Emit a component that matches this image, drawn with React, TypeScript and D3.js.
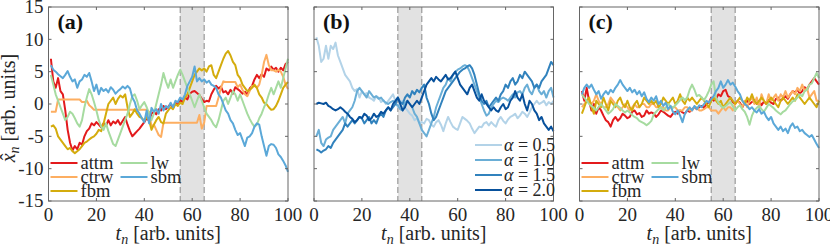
import * as d3 from "d3";

// time index t_n = 1..100
const tn = d3.range(1, 101);

const xTicks = [0, 20, 40, 60, 80, 100];
const yTicks = [-15, -10, -5, 0, 5, 10, 15];

// ---- panel (a): one trajectory per model ----
const aAttm = [
  7, 3.5, 2.5, 4, 2, 1.5, -1, -4, -6, -7.2,
  -6.5, -7, -6, -6.3, -5, -4.2, -3.8, -3, -3.3, -2.8,
  -3.2, -3.6, -3, -3.4, -2.5, -3.3, -2.7, -3, -2.5, -3.2,
  -2.6, -2, -3.2, -4.2, -5, -4.6, -4.2, -3.8, -3.3, -2.8,
  -2.2, -2.6, -1.5, -1.2, -1.6, -0.8, -1, -0.3, -0.8, -0.4,
  0, -0.6, 0.2, -0.2, 0.6, 0.3, 1, 0.7, 1.6, 1.9,
  2, 1.7, 1.4, 0.8, 0.3, 0.5, 0.4, 1.5, 2.2, 2.8,
  2.4, 2.7, 1.8, 2, 1.5, 2.2, 1.6, 2.6, 2.3, 2,
  1.6, 1.9, 1.4, 2.4, 2.8, 3.8, 4.5, 4, 4.6, 4.2,
  5.5, 5.2, 5.8, 5.3, 5.6, 5, 5.6, 5.2, 6.2, 6.5,
];
const aCtrw = [
  -1.2, -1.2, -1.2, 0.7, 0.7, 0.7, 0.7, 0.7, 0.7, 0.7,
  0.7, 0.7, 0.7, 0.3, 0.3, 0.5, -0.2, -0.5, -0.9, -0.9,
  -0.9, -0.9, -0.9, -0.9, -0.9, -0.9, -0.9, -0.9, -0.9, -0.9,
  -0.9, -0.9, -0.9, -0.9, -0.9, -0.9, -0.9, -0.9, -0.9, -0.9,
  -0.9, -1.2, -3.5, -3.2, -4, -4.8, -5.1, -2.9, -2.9, -2.9,
  -2.9, -2.9, -2.9, -2.9, -2.9, -2.9, -2.9, -2.9, -2.9, -2.9,
  -2.9, -2.9, -1.7, -3.8, -2.9, -0.3, -0.3, -0.3, -0.3, -0.3,
  1, 2.5, 3.5, 3.4, 3.4, 3.4, 3.4, 3.4, 2.6, 3,
  2.2, 1.5, 1.2, 2, 2.8, 2.8, 2.5, 3, 4.5, 6.5,
  7.6, 6, 5.2, 5.2, 5, 5.3, 5, 4.2, 3, 2.3,
];
const aFbm = [
  -3.5, -3.3, -3.8, -5, -5.5, -6, -6.5, -7, -6.8, -7.3,
  -7.6, -7.3, -7, -6.5, -6, -5.8, -5.5, -5.2, -5, -4.6,
  -4, -4.2, -3, -1.5, 0, 0.5, 1, 0, 0.8, 1.3,
  1, 1.5, -0.5, -2, -1.5, -0.8, -1.5, -2, -2.2, -2.6,
  -2, -2.5, -4, -3.2, -2.5, -2, -2.8, -3, -1.5, -1,
  -0.5, -0.8, 0, -0.3, 0.2, 0, 1, 1.5, 2.5, 3.5,
  4.5, 5, 5.5, 5.2, 5.5, 5, 5.8, 6, 4.5, 4,
  5, 6, 7, 7.8, 8.2, 7.5, 6.5, 6, 4.5, 4,
  3, 2.5, 2, 2.2, 2.5, 3, 2.5, 1.5, 1, 0.2,
  0, -0.5, -0.9, -0.8, -0.3, 0.5, 1.5, 2.5, 3, 3.4,
];
const aLw = [
  4.5, 3, 1.5, 0.5, -0.5, -1.5, -2.5, -2, -1.2, -1.5,
  -2.2, -3, -3.5, -2.5, -0.5, 1, 2.3, 1.5, 0.3, -1,
  -2.5, -3.5, -4, -3, -4.2, -5.2, -6.2, -6.5, -5.5, -4.5,
  -3.5, -2.5, -1.5, 0, 1.2, 1.5, 0.5, -0.8, -0.2, 0.3,
  -0.5, -1.5, -2.5, -1.5, 0, 1.5, 3, 4.8, 3.5, 2.5,
  3.8, 2.5, 3.5, 4.5, 5.3, 4.5, 3.5, 2.5, 1.5, 0.5,
  -0.5, 0.5, 1.5, 0.5, -0.5, -1.5, -2, -2.5, -3.2, -3.6,
  -2.5, -1, 0.5, 1, 0, 1, 2, 1.5, 0.5, 1.5,
  0.5, -0.5, -1.5, -2.3, -3, -3.5, -3.2, -2.2, -1.5, -0.5,
  0.3, 1.5, 2.5, 1.5, 2.5, 3.5, 2.5, 4, 5.5, 7,
];
const aSbm = [
  6, 5.3, 5, 4.6, 4.3, 4, 4.5, 5.1, 4.2, 3.5,
  3.8, 2.5, 3.5, 3.8, 4.5, 4.2, 4.8, 3.5, 2, 3,
  1.5, 2.5, 2, 2.3, 1.8, 2.6, 2.2, 1.6, 2, 2.3,
  2.7, 2.4, 2.8, 2.4, 1, 0.3, -1, -1.5, -2.2, -2.8,
  -1, -3, -0.6, -1.2, -0.8, -1.5, 0, -1, -0.3, -0.6,
  0.2, -0.5, 0.5, 0.3, 1, 0.7, 1.5, 2.8, 3.5, 4.2,
  5.8, 3.5, 4, 3.5, 3.8, 3.3, 3.6, 3, 2.8, 2.5,
  1.5, 1, 0, -1, -1.5, -2.5, -3, -4, -4.8, -4.5,
  -5.5, -6.5, -5.2, -5, -4.5, -3.5, -3, -3.2, -5, -6.5,
  -8, -6.5, -6.2, -6.3, -6.8, -7.8, -8.2, -8.8, -9.5, -10.5,
];

// ---- panel (b): trajectories for several alpha ----
const bAlpha05 = [
  10.3, 9, 6.5, 7, 9, 7, 9, 8.5, 9.5, 7.5,
  6.5, 5.5, 4.5, 4, 3.5, 2.5, 2, 2.3, 1, 2,
  1.5, 1.7, 1, 0.8, 0.5, 1.2, 1, 0.3, 0.6, 0,
  0.5, 1, 1.5, 0.5, -0.5, 0.3, 0.5, -0.5, -1, -1.5,
  -1.8, -2.5, -2.2, -3, -2.8, -3, -2.3, -2.5, -3.2, -3.5,
  -2.8, -2.5, -3.2, -4.2, -3, -2, -2.8, -3.5, -3.8, -4,
  -3, -2, -2.3, -2.6, -3, -3.8, -4.5, -4, -3.5, -3.6,
  -3, -2.8, -3.3, -2.8, -3.2, -3.5, -2.5, -2, -2.6, -3,
  -2.4, -2, -1.8, -1.5, -2.2, -1.8, -1.2, -1.5, -2, -1.3,
  -0.5, 0, 0.5, 0, 0.2, 0.5, -0.2, 0.3, 0, 0.5,
];
const bAlpha10 = [
  -5, -4, -6, -6.5, -5.5, -5.2, -5, -4, -3.5, -3,
  -2.5, -2, -3, -1.5, -1, -0.5, 0.5, 2, 2.5, 2,
  1.5, 1, 2, 1.5, 1, 1.2, 0.8, 1, 0.5, 0.2,
  0, 0.3, 0.5, 0, -0.2, -0.8, -1, 0.2, 0.5, 0,
  -0.5, -1.5, -2, -3, -4, -4.5, -5, -4, -3, -2,
  -0.5, 0.5, 1.5, 2.5, 3, 4, 3.5, 4.5, 5, 5.3,
  5.5, 5.8, 6, 5.8, 5, 4, 3, 2, 1, 0,
  -1, -1.8, -1.5, -0.5, 0, 0.5, 0.3, 0.8, 1, 0.8,
  0.5, 1, 1.5, 1, 1.8, 2, 1.5, 2.5, 3, 2,
  1.5, 2.5, 3, 2, 1.5, 2, 1, 2, 2.5, 1,
];
const bAlpha15 = [
  -7, -7.2, -7.5, -7.2, -7, -6.5, -6.8, -6, -5.5, -5,
  -4.5, -4, -3, -3.5, -3, -2.5, -3, -2.5, -2, -2.2,
  -3, -2.5, -2, -3, -2.5, -3, -2, -1.5, -2, -1,
  -0.5, -1, -0.5, 0, 1, 0.3, 0, 1, 1.5, 1,
  2, 1.5, 2.2, 1.8, 2.5, 3, 1, 0, -1.5, -2.5,
  -2, -1, 0, 1, 2, 2.5, 3, 3.5, 4, 4.5,
  5, 5.3, 5.5, 5.8, 6, 5.5, 4.5, 3, 1.5, 0.5,
  0, 0.5, -0.5, 0, 0.5, 1, 0.5, 1.5, 2, 3,
  2.5, 3.5, 4, 3, 3.5, 4.5, 4, 5, 4.5, 4,
  3.5, 2.5, 3, 2.5, 3.5, 4, 4.5, 5.5, 6.5, 6,
];
const bAlpha20 = [
  0, 0.2, 0.1, 0, 0.2, -0.3, -0.5, -0.8, -1, -0.8,
  -0.5, -0.8, -1.2, -1.5, -2, -2.3, -2.8, -2.5, -2, -2.2,
  -1.5, -1.8, -2.5, -2.2, -1.5, -2, -1.8, -1.2, -1.5, -1,
  -0.5, -1, 0, 0.5, 1, 0, -1, -0.5, 0.5, 0,
  -0.5, 0, 0.5, 0, 1, 2, 3, 3.5, 4, 3.5,
  4.2, 3.8, 3.5, 4, 4.5, 3.8, 4, 4.5, 5, 4,
  3, 2.5, 2, 1.5, 2.5, 3, 2, 1, 0.5, 1.5,
  0.5, 0, -0.5, -1, -0.5, -1, -1.2, -0.5, 0, -0.8,
  -0.5, 0.5, 1, 2, 1, 0.5, 1.5, 0, -1, 0.5,
  0, -1, -1.5, -2.5, -2, -3, -3.5, -4, -3.5, -4.2,
];

// ---- panel (c): one trajectory per model ----
const cAttm = [
  2, 0.5, 2.5, 0.5, -1, 0, -1.5, -0.5, -1, -1.8,
  -2.5, -2.8, -3.5, -2.5, -2, -2.6, -2.2, -1.5, -1.8, -2.2,
  -2, -1.2, -1, -1.6, -1.4, -2, -1.8, -1, -1.5, -1.3,
  -1.5, -2, -1.6, -1, -1.2, -1.5, -1.8, -2, -1.5, -1.2,
  -1.5, -1, -1.3, -1.5, -1, -1.2, -0.8, -0.5, -0.8, -0.5,
  -0.3, -0.6, 0, 0.2, 1, 0.5, 0.8, 1.5, 1.2, 2,
  2.2, 1.2, 1, 0.3, 0, 0.5, 0.2, -0.5, 0.2, 0.5,
  0, 0.3, 0.6, 0, 0.5, -0.2, 0.4, 0, 0.6, 0.2,
  0, 0.8, 1, 0.5, 0.8, 1.2, 0.8, 1.5, 2, 1.8,
  2.2, 1.6, 2, 2.6, 2.2, 3, 3.5, 4, 3.5, 3,
];
const cCtrw = [
  -0.5, 0, 0.5, 0.5, 0, 0.5, 1.5, 0.5, 0, -0.5,
  -0.5, 0, 1, 0.5, 0, -0.5, -1, -0.5, 0, -0.5,
  -1, -0.5, 0, -0.5, -0.5, 0, 0, -0.5, -0.5, 0,
  0, -0.5, -0.5, -0.5, -0.5, -1, -1, -0.5, -0.5, -0.5,
  -1, -1, -1, -0.5, -0.5, -1, -1, -0.5, -0.5, -1,
  -1, -0.8, -0.5, -0.5, -1, -1, -1, -1.5, -1, -0.5,
  -1, -0.5, -0.5, -1, 0, 0.5, 0, -0.5, 0.5, -0.5,
  0.5, 1, 0, 1, -0.5, 1.5, 0.5, 0, 1.5, 0.5,
  1, 1.5, 0.5, 1.5, 1, 2, 1, 1.5, 2, 1.5,
  2.5, 2, 3, 2, 2.5, 1, 1.5, 2, 0.5, 0.5,
];
const cFbm = [
  -1.5, -0.5, 0.5, 1, -0.5, -1.5, 0.5, 0, -0.5, 1,
  0, -1, 0.5, 0, -0.5, 0.5, 1, 0, -0.5, 0.5,
  -0.5, -1, 0, 0.5, -0.5, 0, 1, 0.5, 0, 0.5,
  0, 0.5, -0.5, 0, 1, 0.5, 0, 0.5, 1, 0,
  0.5, 1.5, 0.5, 0, 1, 0.5, 1, 0.5, 0, 0.5,
  1, 0.5, 0, -0.5, 0.5, 1, 0.5, 0, 0.5, -0.5,
  0, 0.5, 1, 0.5, 0, 0.5, 1, 0.5, 0, 1,
  0.5, 1.5, 0.5, 0, 0.5, 1, 0.5, 0, 0.5, 1,
  0.5, 0, -0.5, 0.5, 1, 0.5, 0, 0.5, 1, 0.5,
  1.5, 1, 0.5, 0, 0.5, 1, 0.5, 0, -0.5, 0.5,
];
const cLw = [
  1.5, 1, 0.5, 0, -0.3, -0.6, -1, -0.5, 0, -0.5,
  -1, -1.5, -1.2, -0.8, 0, -0.3, -0.6, -1, -1.3, -1,
  -1.3, -1.7, -2, -2.2, -2.6, -2.8, -3, -3.3, -3, -2.6,
  -1.6, -1.2, -0.8, -0.5, -1, -0.6, 0, -0.3, -0.6, -0.2,
  0.2, 0.6, 1, 0.6, 1, 2.2, 3, 2.2, 1.2, 1.4,
  1, 0.6, 1.2, 2, 3, 3.5, 1, 0.2, -0.3, -0.6,
  -0.3, 0, 0.3, -0.3, -1, -0.5, -0.2, -0.8, -1.2, -2,
  -3.2, -1.8, -1, -0.6, -0.3, -0.8, -1.2, -0.6, 0, -0.3,
  -0.6, -1, -1.3, -1.6, -1.2, -1, -0.5, 0, 0.4, 0.6,
  1, 1.5, 1.2, 2, 2.2, 3, 3.2, 4, 4.8, 4,
];
const cSbm = [
  1.5, 2.5, 3, 2.5, 3, 2.2, 1.5, 2, 0.8, 1.5,
  2, 1.5, 2.2, 1.8, 2.5, 3, 3.7, 3, 2.5, 2,
  2.5, 1.8, 2.2, 1.5, 2, 1.2, 1.8, 0.8, 0.3, 1,
  0.5, 1.2, 0, 0.5, -0.3, 0.2, -0.8, -0.3, -1.2, -1.6,
  -1, -1.8, -2.8, -1.5, -1, -0.5, -1, -0.3, -0.8, -0.2,
  -0.5, 0, 0.5, 0.2, 0.8, 1.2, 2, 2.5, 3.5, 2.5,
  3, 3.7, 3, 3.3, 2.7, 2, 1.5, 0.5, 0, -0.3,
  -0.8, -0.5, -1, -1.3, -0.8, -1.5, -1.2, -2, -2.5, -2,
  -3, -3.5, -4, -3.5, -4.2, -3.8, -4.5, -3.5, -3, -3.7,
  -3.5, -4.2, -4, -4.5, -4.8, -5.1, -4.8, -5.5, -6.2, -6.8,
];

const modelNames = ["attm", "ctrw", "fbm", "lw", "sbm"];
const modelColors = ["#e31a1c", "#fdae61", "#d4ac0d", "#a6dba0", "#5ba8d8"];
const alphaNames = ["0.5", "1.0", "1.5", "2.0"];
const alphaColors = ["#b3d3e8", "#6aaed6", "#3182bd", "#08519c"];

type Series = { name: string; color: string; values: number[] };

const FONT = "'Liberation Serif', 'DejaVu Serif', serif";
const top = 7;
const bottom = 201;
const pw = 239.5;

const y = d3.scaleLinear().domain([-15, 15]).range([bottom, top]);

function Panel({ left, label, series, shade, legend, yLabels }: {
  left: number; label: string; series: Series[]; shade: [number, number];
  legend: "model" | "alpha"; yLabels: boolean;
}) {
  const x = d3.scaleLinear().domain([0, 100]).range([left, left + pw]);
  const line = d3.line<number>().x((_, i) => x(tn[i])).y((v) => y(v));
  const tl = 3;
  return (
    <g fontFamily={FONT}>
      <rect x={x(shade[0])} y={top} width={x(shade[1]) - x(shade[0])} height={bottom - top} fill="#e2e2e2" />
      {shade.map((s) => (
        <line key={s} x1={x(s)} x2={x(s)} y1={top} y2={bottom} stroke="#9a9a9a" strokeWidth={1.2} strokeDasharray="6 3" />
      ))}
      {series.map((s) => (
        <path key={s.name} d={line(s.values) || ""} fill="none" stroke={s.color} strokeWidth={2} strokeLinejoin="round" />
      ))}
      {/* box and ticks */}
      <rect x={left} y={top} width={pw} height={bottom - top} fill="none" stroke="#666" strokeWidth={1} />
      {xTicks.map((t) => (
        <g key={t}>
          <line x1={x(t)} x2={x(t)} y1={bottom} y2={bottom - tl} stroke="#666" />
          <line x1={x(t)} x2={x(t)} y1={top} y2={top + tl} stroke="#666" />
          <text x={x(t)} y={221} textAnchor="middle" fontSize={19} fill="#262626">{t}</text>
        </g>
      ))}
      {yTicks.map((t) => (
        <g key={t}>
          <line x1={left} x2={left + tl} y1={y(t)} y2={y(t)} stroke="#666" />
          <line x1={left + pw} x2={left + pw - tl} y1={y(t)} y2={y(t)} stroke="#666" />
          {yLabels && (
            <text x={left - 5} y={y(t)} dy="0.34em" textAnchor="end" fontSize={19} fill="#262626">{t}</text>
          )}
        </g>
      ))}
      <text x={left + pw / 2} y={240} textAnchor="middle" fontSize={20} fill="#262626">
        <tspan fontStyle="italic">t</tspan>
        <tspan fontStyle="italic" fontSize={14} dy={4}>n</tspan>
        <tspan dy={-4}> [arb. units]</tspan>
      </text>
      <text x={left + 9} y={29} fontSize={22} fontWeight="bold" fill="#111">{label}</text>
      {legend === "model" &&
        series.map((s, i) => {
          const col = i < 3 ? 0 : 1;
          const row = i < 3 ? i : i - 3;
          const lx = left + 2 + col * 70;
          const ly = 163 + row * 14;
          return (
            <g key={s.name}>
              <line x1={lx} x2={lx + 27} y1={ly} y2={ly} stroke={s.color} strokeWidth={2} />
              <text x={lx + 30} y={ly} dy="0.32em" fontSize={18.5} fill="#262626">{s.name}</text>
            </g>
          );
        })}
      {legend === "alpha" &&
        series.map((s, i) => {
          const lx = left + 161;
          const ly = 145 + i * 15;
          return (
            <g key={s.name}>
              <line x1={lx} x2={lx + 27} y1={ly} y2={ly} stroke={s.color} strokeWidth={2} />
              <text x={lx + 29} y={ly} dy="0.32em" fontSize={18} fill="#262626">
                <tspan fontStyle="italic">α</tspan> = {s.name}
              </text>
            </g>
          );
        })}
    </g>
  );
}

export default function App() {
  const aSeries: Series[] = [aAttm, aCtrw, aFbm, aLw, aSbm].map((v, i) => ({ name: modelNames[i], color: modelColors[i], values: v }));
  const bSeries: Series[] = [bAlpha05, bAlpha10, bAlpha15, bAlpha20].map((v, i) => ({ name: alphaNames[i], color: alphaColors[i], values: v }));
  const cSeries: Series[] = [cAttm, cCtrw, cFbm, cLw, cSbm].map((v, i) => ({ name: modelNames[i], color: modelColors[i], values: v }));
  return (
    <svg width={830} height={246} style={{ position: "absolute", left: 0, top: 0, background: "#fff" }}>
      <Panel left={48.5} label="(a)" series={aSeries} shade={[55, 65]} legend="model" yLabels />
      <Panel left={314} label="(b)" series={bSeries} shade={[35, 45]} legend="alpha" yLabels={false} />
      <Panel left={579.5} label="(c)" series={cSeries} shade={[55, 65]} legend="model" yLabels={false} />
      <text transform="translate(15,108) rotate(-90)" textAnchor="middle" fontFamily={FONT} fontSize={20} fill="#262626">
        <tspan fontStyle="italic">x</tspan>
        <tspan dx={-7}>{"\u02C6"}</tspan>
        <tspan fontStyle="italic" fontSize={14} dy={4}>n</tspan>
        <tspan dy={-4}> [arb. units]</tspan>
      </text>
    </svg>
  );
}
